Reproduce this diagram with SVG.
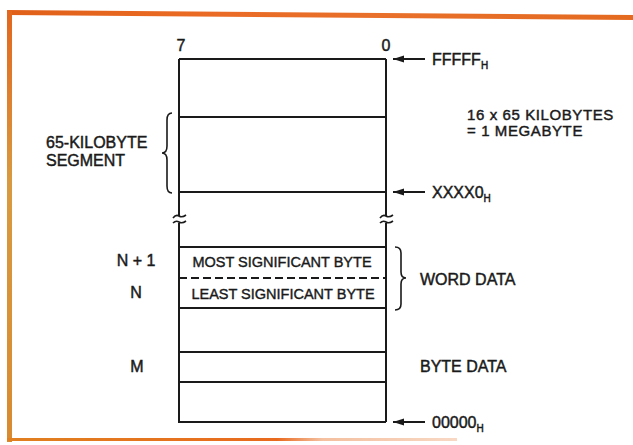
<svg xmlns="http://www.w3.org/2000/svg" width="633" height="445" viewBox="0 0 633 445">
<defs>
<marker id="ah" markerWidth="11" markerHeight="8" refX="0" refY="4" orient="auto" markerUnits="userSpaceOnUse">
<path d="M11,0.5 L0,4 L11,7.5 Z" fill="#1a1a1a"/>
</marker>
<linearGradient id="topg" x1="0" y1="0" x2="1" y2="0">
<stop offset="0" stop-color="#e0601a"/>
<stop offset="0.3" stop-color="#ea6a24"/>
<stop offset="0.6" stop-color="#e8702a"/>
<stop offset="1" stop-color="#e46a20"/>
</linearGradient>
<linearGradient id="leftg" x1="0" y1="0" x2="0" y2="1">
<stop offset="0" stop-color="#e2661e"/>
<stop offset="0.4" stop-color="#d89a40"/>
<stop offset="1" stop-color="#d88a30"/>
</linearGradient>
<linearGradient id="botg" x1="0" y1="0" x2="1" y2="0">
<stop offset="0" stop-color="#e08020"/>
<stop offset="0.6" stop-color="#e86a1e"/>
<stop offset="0.7" stop-color="#f4c0a0"/>
<stop offset="1" stop-color="#f8d8c4"/>
</linearGradient>
</defs>
<style>
.t{font-family:"Liberation Sans",Arial,sans-serif;font-size:16px;fill:#1a1a1a;stroke:#1a1a1a;stroke-width:0.45}
.s{font-family:"Liberation Sans",Arial,sans-serif;font-size:14.5px;fill:#1a1a1a;stroke:#1a1a1a;stroke-width:0.4}
.m{font-size:15px;letter-spacing:0.6px}
.sub{font-size:10px}
.ln{stroke:#1a1a1a;stroke-width:2;fill:none}
.br{stroke:#1a1a1a;stroke-width:1.6;fill:none}
</style>
<rect width="633" height="445" fill="#ffffff"/>
<g id="frame">
<polygon points="7,10 633,15 633,20 7,15" fill="url(#topg)"/>
<rect x="7" y="10" width="5" height="432" fill="url(#leftg)"/>
<rect x="7" y="438" width="450" height="3" fill="url(#botg)"/>
</g>
<g id="memory">
<path class="ln" d="M179,59 H386 M179,59 V216 M386,59 V216 M179,223 V422 H386 M386,223 V422"/>
<path class="ln" d="M179,117 H386 M179,192 H386 M179,247 H386 M179,308 H386 M179,352 H386 M179,382 H386"/>
<path class="ln" stroke-dasharray="8,4" d="M179,278 H386"/>
<path class="br" d="M173,218 Q176,214 179,216 Q182,218 186,215 M173,223 Q176,220 179,222 Q182,224 186,221"/>
<path class="br" d="M380,218 Q383,214 386,216 Q389,218 393,215 M380,223 Q383,220 386,222 Q389,224 393,221"/>
</g>
<g id="bits">
<text class="t" x="181" y="51" text-anchor="middle">7</text>
<text class="t" x="386" y="51" text-anchor="middle">0</text>
</g>
<g id="segment">
<path class="br" d="M172,113 Q167,113 167,120 L167,146 Q167,153 162,153 Q167,153 167,160 L167,186 Q167,193 172,193"/>
<text class="t" x="46" y="148">65-KILOBYTE</text>
<text class="t" x="46" y="166">SEGMENT</text>
</g>
<g id="total">
<text class="t m" x="467" y="120">16 x 65 KILOBYTES</text>
<text class="t m" x="467" y="136">= 1 MEGABYTE</text>
</g>
<g id="word">
<text class="s" x="282" y="267" text-anchor="middle">MOST SIGNIFICANT BYTE</text>
<text class="s" x="283" y="299" text-anchor="middle">LEAST SIGNIFICANT BYTE</text>
<text class="t" x="136" y="266" text-anchor="middle">N + 1</text>
<text class="t" x="136" y="298" text-anchor="middle">N</text>
<path class="br" d="M395,247 Q401,247 401,253 L401,272 Q401,278 406,278 Q401,278 401,284 L401,304 Q401,310 395,310"/>
<text class="t" x="420" y="285">WORD DATA</text>
</g>
<g id="byte">
<text class="t" x="137" y="372" text-anchor="middle">M</text>
<text class="t" x="420" y="372">BYTE DATA</text>
</g>
<g id="connectors">
<line class="ln" x1="393" y1="59" x2="425" y2="59" marker-start="url(#ah)"/>
<line class="ln" x1="393" y1="192" x2="425" y2="192" marker-start="url(#ah)"/>
<line class="ln" x1="393" y1="422" x2="425" y2="422" marker-start="url(#ah)"/>
</g>
<g id="addresses">
<text class="t" x="432" y="65">FFFFF<tspan class="sub" dy="4">H</tspan></text>
<text class="t" x="432" y="198">XXXX0<tspan class="sub" dy="4">H</tspan></text>
<text class="t" x="432" y="428">00000<tspan class="sub" dy="4">H</tspan></text>
</g>
</svg>
